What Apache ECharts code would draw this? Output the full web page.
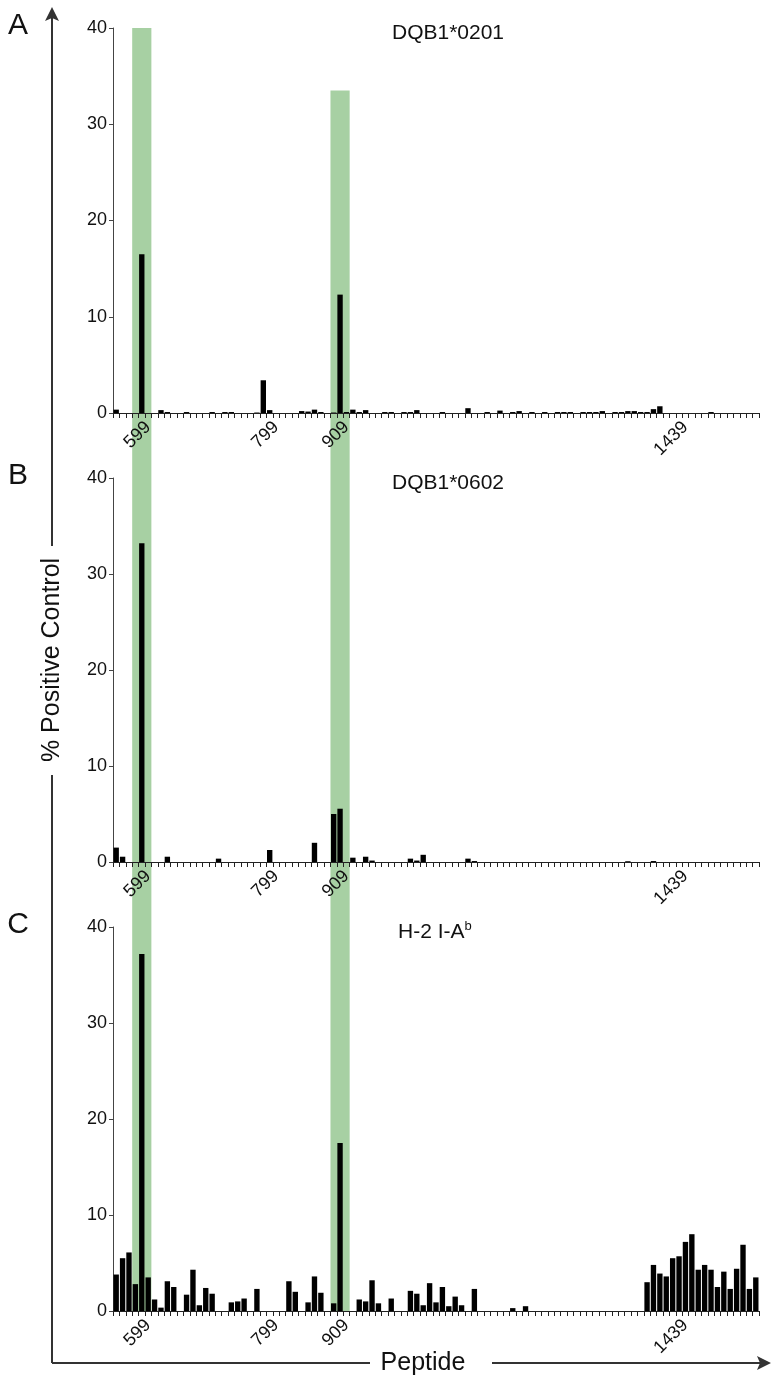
<!DOCTYPE html>
<html><head><meta charset="utf-8">
<script src="https://cdn.jsdelivr.net/npm/echarts@6/dist/echarts.min.js"></script>
<style>html,body{margin:0;padding:0;background:#fff}#c{width:776px;height:1379px}</style>
</head><body><div id="c"></div>
<script>
const peptides = ['559','569','579','589','599','609','619','629','639','649',
 '659','669','679','689','699','709','719','729','739','749',
 '759','769','779','789','799','809','819','829','839','849',
 '859','869','879','889','899','909','919','929','939','949',
 '959','969','979','989','999','1009','1019','1029','1039','1049',
 '1059','1069','1079','1089','1099','1109','1119','1129','1139','1149',
 '1159','1169','1179','1189','1199','1209','1219','1229','1239','1249',
 '1259','1269','1279','1289','1299','1309','1319','1329','1339','1349',
 '1359','1369','1379','1389','1399','1409','1419','1429','1439','1449',
 '1459','1469','1479','1489','1499','1509','1519','1529','1539','1549',
 '1559'];
const labeledTicks = ['599','799','909','1439'];
const yTicks = [0, 10, 20, 30, 40];

const valuesA = [0.35,0,0,0,16.5,0,0,0.3,0.1,0,
 0,0.1,0,0,0,0.1,0,0.1,0.1,0,
 0,0,0.05,3.4,0.3,0,0,0,0,0.2,
 0.15,0.35,0.1,0,0.05,12.3,0.1,0.35,0.1,0.3,
 0,0,0.1,0.1,0,0.1,0.1,0.3,0,0,
 0,0.1,0,0,0,0.5,0,0,0.1,0,
 0.25,0,0.1,0.2,0,0.1,0,0.1,0,0.1,
 0.1,0.1,0,0.1,0.1,0.1,0.2,0,0.1,0.1,
 0.2,0.2,0.1,0.1,0.4,0.7,0,0,0,0,
 0,0,0,0.1,0,0,0,0,0,0,
 0];
const valuesB = [1.5,0.55,0,0,33.2,0,0,0,0.55,0,
 0,0,0,0,0,0,0.35,0,0,0,
 0,0,0,0,1.25,0,0,0,0,0,
 0,2.0,0,0,5.0,5.55,0,0.45,0,0.55,
 0.15,0,0,0,0,0,0.35,0.15,0.75,0,
 0,0,0,0,0,0.35,0.1,0,0,0,
 0,0,0,0,0,0,0,0,0,0,
 0,0,0,0,0,0,0,0,0,0,
 0.08,0,0,0,0.1,0,0,0,0,0,
 0,0,0,0,0,0,0,0,0,0,
 0];
const valuesC = [3.8,5.5,6.1,2.8,37.2,3.5,1.2,0.35,3.1,2.5,
 0,1.7,4.3,0.6,2.4,1.8,0,0,0.9,1.0,
 1.3,0,2.3,0,0,0,0,3.1,2.0,0,
 0.9,3.6,1.9,0,0.8,17.5,0,0,1.2,1.0,
 3.2,0.8,0,1.3,0,0,2.1,1.8,0.6,2.9,
 0.9,2.5,0.5,1.5,0.6,0,2.3,0,0,0,
 0,0,0.3,0,0.5,0,0,0,0,0,
 0,0,0,0,0,0,0,0,0,0,
 0,0,0,3.0,4.8,3.9,3.6,5.5,5.7,7.2,
 8.0,4.3,4.8,4.3,2.5,4.1,2.3,4.4,6.9,2.3,
 3.5];

const panelTitles = ['DQB1*0201', 'DQB1*0602', 'H-2 I-A{sup|b}'];
const panelLetters = ['A', 'B', 'C'];
const highlightBands = [['589', '609'], ['899', '919']];
const bandTopsA = [40, 33.5];

const FONT = '"Liberation Sans", Arial, Helvetica, sans-serif';
const grids = [
  {left: 113, width: 646, top: 28, height: 385},
  {left: 113, width: 646, top: 478, height: 384},
  {left: 113, width: 646, top: 927, height: 384}
];
const allValues = [valuesA, valuesB, valuesC];

const chart = echarts.init(document.getElementById('c'), null, {renderer: 'canvas'});

const option = {
  animation: false,
  backgroundColor: '#fff',
  grid: grids,
  xAxis: grids.map((g, i) => ({
    type: 'category', gridIndex: i, data: peptides, boundaryGap: true,
    axisLine: {show: true, lineStyle: {color: '#222', width: 1}},
    axisTick: {show: true, interval: 0, length: 5, lineStyle: {color: '#222', width: 1}},
    axisLabel: {
      interval: (idx, val) => labeledTicks.indexOf(val) >= 0,
      rotate: 45, margin: 5, fontSize: 18, color: '#111', fontFamily: FONT,
      verticalAlign: 'top'
    },
    splitLine: {show: false}
  })),
  yAxis: grids.map((g, i) => ({
    type: 'value', gridIndex: i, min: yTicks[0], max: yTicks[yTicks.length - 1], interval: 10,
    axisLine: {show: true, lineStyle: {color: '#444', width: 1}},
    axisTick: {show: true, length: 4, lineStyle: {color: '#444'}},
    axisLabel: {fontSize: 18, color: '#111', margin: 6, fontFamily: FONT},
    splitLine: {show: false}
  })),
  series: allValues.map((vals, i) => ({
    type: 'bar', xAxisIndex: i, yAxisIndex: i, data: vals,
    barCategoryGap: '16%', itemStyle: {color: '#000'}, z: 3
  }))
};
chart.setOption(option);

// Build decorative graphics using the chart's scales
const gfx = [];
const bw = chart.convertToPixel({xAxisIndex: 0}, '599') - chart.convertToPixel({xAxisIndex: 0}, '589');
const yBottom = chart.convertToPixel({yAxisIndex: 2}, 0);
highlightBands.forEach((b, k) => {
  const x0 = chart.convertToPixel({xAxisIndex: 0}, b[0]) - bw / 2;
  const x1 = chart.convertToPixel({xAxisIndex: 0}, b[1]) + bw / 2;
  const yTop = chart.convertToPixel({yAxisIndex: 0}, bandTopsA[k]);
  gfx.push({type: 'rect', z: -10, silent: true,
    shape: {x: x0, y: yTop, width: x1 - x0, height: yBottom - yTop},
    style: {fill: '#a7d0a3'}});
});

// panel titles and letters
const titleX = [448, 448, 398];
grids.forEach((g, i) => {
  const yTop = chart.convertToPixel({yAxisIndex: i}, 40);
  gfx.push({type: 'text', z: 10, x: titleX[i], y: yTop + 5,
    style: {text: panelTitles[i], fontSize: 21, fill: '#111', fontFamily: FONT,
      align: i === 2 ? 'left' : 'center', verticalAlign: 'middle',
      rich: {sup: {fontSize: 13, verticalAlign: 'top', padding: [0, 0, 12, 0], fontFamily: FONT, fill: '#111'}}}});
  gfx.push({type: 'text', z: 10, x: 18, y: yTop - 2,
    style: {text: panelLetters[i], fontSize: 30, fill: '#111', fontFamily: FONT,
      align: 'center', verticalAlign: 'middle'}});
});

// big outer axes with arrows
const AX = 52, AY = 1363, LC = '#333';
gfx.push({type: 'line', z: 10, shape: {x1: AX, y1: 18, x2: AX, y2: 546}, style: {stroke: LC, lineWidth: 2}});
gfx.push({type: 'line', z: 10, shape: {x1: AX, y1: 775, x2: AX, y2: AY}, style: {stroke: LC, lineWidth: 2}});
gfx.push({type: 'polygon', z: 10, shape: {points: [[AX, 7], [AX - 7, 21], [AX, 18], [AX + 7, 21]]}, style: {fill: LC}});
gfx.push({type: 'line', z: 10, shape: {x1: AX, y1: AY, x2: 370, y2: AY}, style: {stroke: LC, lineWidth: 2}});
gfx.push({type: 'line', z: 10, shape: {x1: 492, y1: AY, x2: 762, y2: AY}, style: {stroke: LC, lineWidth: 2}});
gfx.push({type: 'polygon', z: 10, shape: {points: [[771, AY], [757, AY - 7], [760, AY], [757, AY + 7]]}, style: {fill: LC}});
gfx.push({type: 'text', z: 10, x: AX, y: 660, rotation: Math.PI / 2,
  style: {text: '% Positive Control', fontSize: 25, fill: '#111', fontFamily: FONT, align: 'center', verticalAlign: 'middle'}});
gfx.push({type: 'text', z: 10, x: 423, y: AY,
  style: {text: 'Peptide', fontSize: 25, fill: '#111', fontFamily: FONT, align: 'center', verticalAlign: 'middle'}});

chart.setOption({graphic: gfx});
</script>
</body></html>
